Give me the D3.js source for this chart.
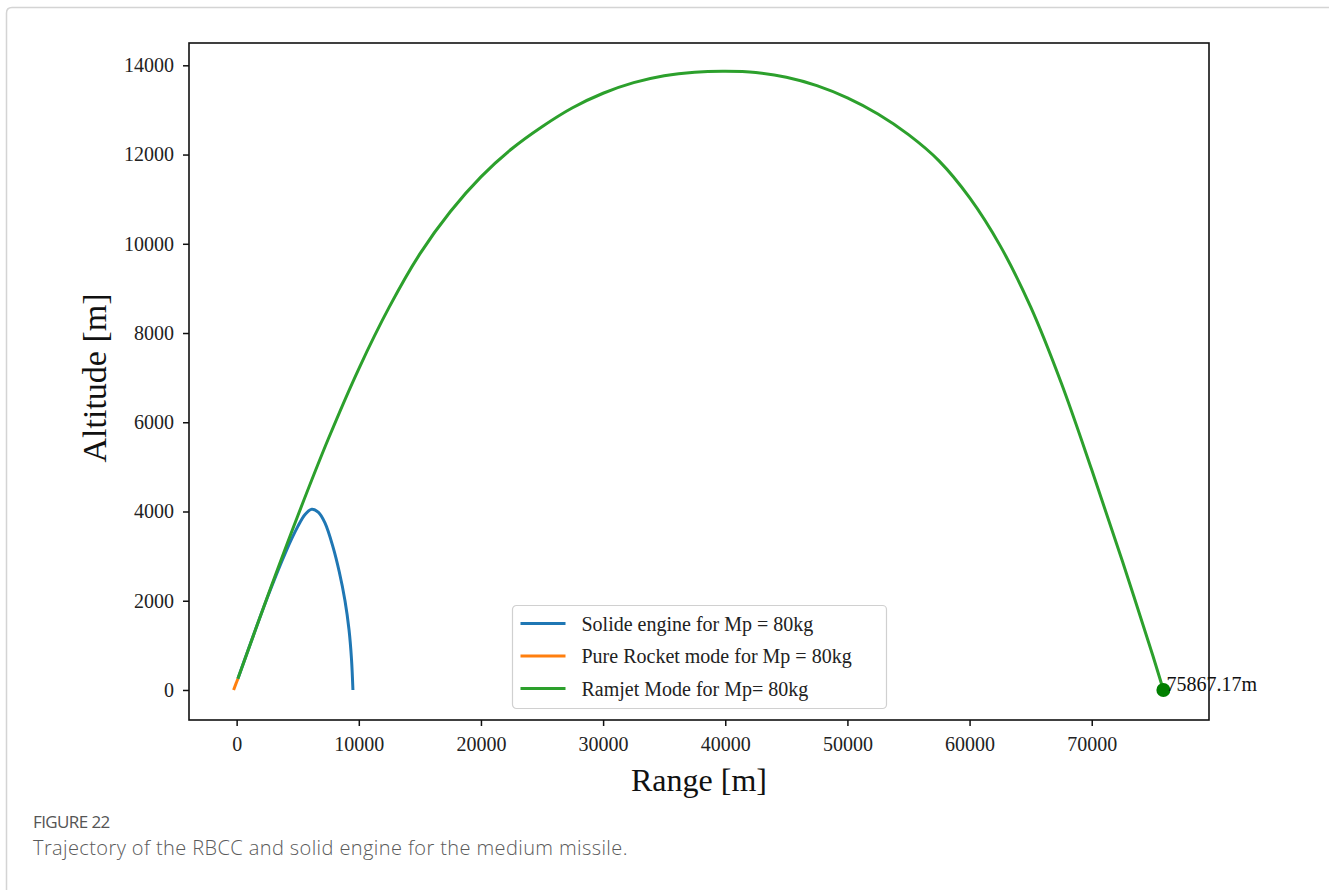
<!DOCTYPE html>
<html>
<head>
<meta charset="utf-8">
<script src="https://cdn.jsdelivr.net/npm/d3@7"></script>
<style>
  html, body { margin: 0; padding: 0; background: #fff; }
  svg { display: block; }
</style>
</head>
<body>
<div id="chart"></div>
<script>
// ---- data (range m, altitude m) ----
const solidRange = [100, 2500, 4000, 5000, 5600, 6150, 6700, 7230, 7880, 8400, 8870, 9200, 9400, 9520];
const solidAlt   = [250, 2060, 3080, 3660, 3935, 4050, 3980, 3744, 3213, 2650, 2000, 1350, 700, 0];

const rocketRange = [-250, 100];
const rocketAlt   = [0, 250];

const ramjetRange = [100, 2500, 5000, 7500, 10000, 12500, 15000, 17500, 20000, 22500, 25000, 27500, 30000, 32500, 35000, 37500, 40000,
                     42500, 45000, 47500, 50000, 52500, 55000, 57500, 60000, 62500, 65000, 67500, 70000, 72500, 75000, 75867.17];
const ramjetAlt   = [250, 2074, 3899, 5624, 7199, 8586, 9774, 10724, 11499, 12124, 12624, 13049, 13374, 13611, 13766, 13846, 13866,
                     13839, 13734, 13546, 13271, 12909, 12446, 11859, 11034, 9959, 8584, 6884, 4934, 2896, 771, 0];

const seriesNames = ['Solide engine for Mp = 80kg', 'Pure Rocket mode for Mp = 80kg', 'Ramjet Mode for Mp= 80kg'];
const seriesColors = ['#1f77b4', '#ff7f0e', '#2ca02c'];

const xTicks = [0, 10000, 20000, 30000, 40000, 50000, 60000, 70000];
const yTicks = [0, 2000, 4000, 6000, 8000, 10000, 12000, 14000];

const endPoint = { range: 75867.17, alt: 0, label: '75867.17m' };

const W = 1329, H = 890;
const plot = { left: 189, right: 1209, top: 43, bottom: 720 };
const serif = '"Liberation Serif", "Times New Roman", Times, serif';
const sans = '"Open Sans", "Noto Sans", sans-serif';

const svg = d3.select('#chart').append('svg')
  .attr('width', W).attr('height', H)
  .attr('viewBox', `0 0 ${W} ${H}`);

// page card edge (top + left)
svg.append('path')
  .attr('d', 'M6.5,890 V13 Q6.5,7.5 12,7.5 H1329')
  .attr('fill', 'none')
  .attr('stroke', '#d4d4d4')
  .attr('stroke-width', 1.5);

const x = d3.scaleLinear().domain([-3900, 79600]).range([plot.left, plot.right]);
const y = d3.scaleLinear().domain([-673, 14500]).range([plot.bottom, plot.top]);

svg.append('clipPath').attr('id', 'clip')
  .append('rect')
  .attr('x', plot.left).attr('y', plot.top)
  .attr('width', plot.right - plot.left).attr('height', plot.bottom - plot.top);

const line = d3.line()
  .x(d => x(d[0]))
  .y(d => y(d[1]))
  .curve(d3.curveCatmullRom.alpha(0.5));

const series = [
  d3.zip(solidRange, solidAlt),
  d3.zip(rocketRange, rocketAlt),
  d3.zip(ramjetRange, ramjetAlt)
];

const lines = svg.append('g').attr('clip-path', 'url(#clip)');
series.forEach((pts, i) => {
  lines.append('path')
    .datum(pts)
    .attr('d', line)
    .attr('fill', 'none')
    .attr('stroke', seriesColors[i])
    .attr('stroke-width', 3)
    .attr('stroke-linejoin', 'round');
});

// end marker + label
svg.append('circle')
  .attr('cx', x(endPoint.range))
  .attr('cy', y(endPoint.alt))
  .attr('r', 7)
  .attr('fill', '#007f00');

svg.append('text')
  .attr('x', x(endPoint.range) + 3)
  .attr('y', y(endPoint.alt) + 1)
  .attr('font-family', serif)
  .attr('font-size', 20)
  .attr('fill', '#111')
  .text(endPoint.label);

// axes
const xAxis = svg.append('g')
  .attr('transform', `translate(0,${plot.bottom})`)
  .call(d3.axisBottom(x).tickValues(xTicks).tickSize(6).tickPadding(6).tickFormat(d3.format('d')));

const yAxis = svg.append('g')
  .attr('transform', `translate(${plot.left},0)`)
  .call(d3.axisLeft(y).tickValues(yTicks).tickSize(6).tickPadding(9).tickFormat(d3.format('d')));

[xAxis, yAxis].forEach(g => {
  g.select('.domain').remove();
  g.selectAll('.tick line').attr('stroke', '#111').attr('stroke-width', 1.5);
  g.selectAll('.tick text')
    .attr('font-family', serif)
    .attr('font-size', 20)
    .attr('fill', '#222');
});
xAxis.selectAll('.tick text').attr('dy', '0.95em');

// axes frame
svg.append('rect')
  .attr('x', plot.left).attr('y', plot.top)
  .attr('width', plot.right - plot.left)
  .attr('height', plot.bottom - plot.top)
  .attr('fill', 'none')
  .attr('stroke', '#111')
  .attr('stroke-width', 1.6);

// axis titles
svg.append('text')
  .attr('x', 699).attr('y', 791)
  .attr('text-anchor', 'middle')
  .attr('font-family', serif)
  .attr('font-size', 32)
  .attr('fill', '#111')
  .text('Range [m]');

svg.append('text')
  .attr('transform', 'translate(106,378) rotate(-90)')
  .attr('text-anchor', 'middle')
  .attr('font-family', serif)
  .attr('font-size', 34)
  .attr('fill', '#111')
  .text('Altitude [m]');

// legend
const legend = svg.append('g').attr('transform', 'translate(512.5,605.5)');
legend.append('rect')
  .attr('width', 374).attr('height', 103)
  .attr('rx', 4)
  .attr('fill', '#fff')
  .attr('fill-opacity', 0.9)
  .attr('stroke', '#d0d0d0')
  .attr('stroke-width', 1.2);

seriesNames.forEach((name, i) => {
  const cy = 18 + i * 32.5;
  legend.append('line')
    .attr('x1', 8).attr('x2', 53)
    .attr('y1', cy).attr('y2', cy)
    .attr('stroke', seriesColors[i])
    .attr('stroke-width', 3);
  legend.append('text')
    .attr('x', 69).attr('y', cy)
    .attr('dy', '0.35em')
    .attr('font-family', serif)
    .attr('font-size', 20)
    .attr('fill', '#222')
    .text(name);
});

// caption
svg.append('text')
  .attr('x', 33).attr('y', 828)
  .attr('font-family', sans)
  .attr('font-size', 17)
  .attr('letter-spacing', '-0.6px')
  .attr('fill', '#555')
  .text('FIGURE 22');

svg.append('text')
  .attr('x', 33).attr('y', 855)
  .attr('font-family', sans)
  .attr('font-size', 20)
  .attr('letter-spacing', '0.4px')
  .attr('font-weight', 300)
  .attr('fill', '#5a5a5a')
  .text('Trajectory of the RBCC and solid engine for the medium missile.');
</script>
</body>
</html>
